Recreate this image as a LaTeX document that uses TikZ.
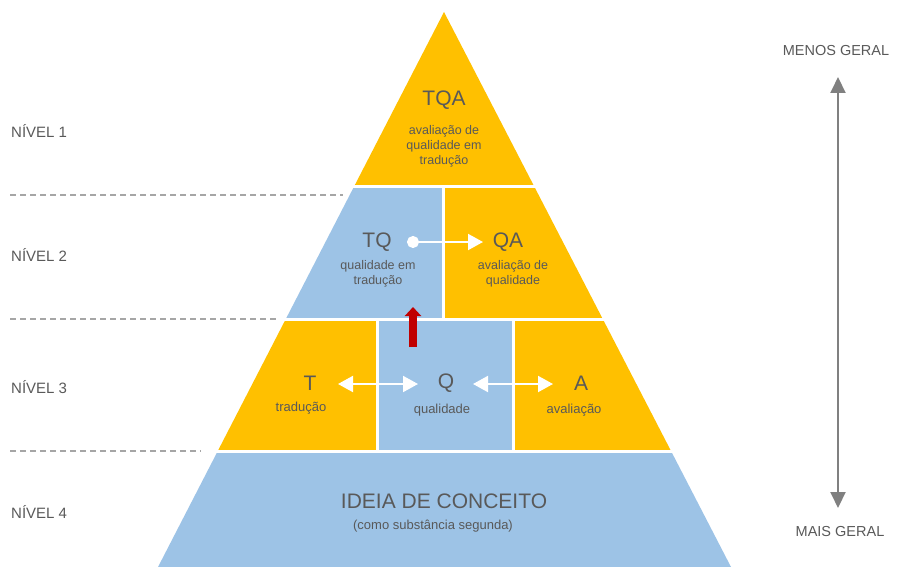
\documentclass[tikz,border=0pt]{standalone}
\usepackage{fontspec}
\setmainfont{Liberation Sans}
\usetikzlibrary{arrows.meta}
\definecolor{pyor}{HTML}{FFC000}
\definecolor{pybl}{HTML}{9DC3E6}
\definecolor{txtgray}{HTML}{595959}
\definecolor{redar}{HTML}{C00000}
\definecolor{grayar}{HTML}{808080}
\definecolor{dashgray}{HTML}{A6A6A6}
\begin{document}
\begin{tikzpicture}[x=1pt,y=-1pt,
 big/.style={font=\fontsize{21}{25}\selectfont, text=txtgray, inner sep=0pt},
 sub/.style={font=\fontsize{12.5}{15}\selectfont, text=txtgray, align=center, inner sep=0pt},
 subb/.style={font=\fontsize{13}{15}\selectfont, text=txtgray, align=center, inner sep=0pt},
 lvl/.style={font=\fontsize{15}{18}\selectfont, text=txtgray, anchor=west, inner sep=0pt},
 side/.style={font=\fontsize{14.5}{17}\selectfont, text=txtgray, inner sep=0pt},
 wline/.style={draw=white, line width=2pt},
 guide/.style={draw=dashgray, line width=1.2pt, dash pattern=on 6pt off 4pt},
]
\useasboundingbox (0,0) rectangle (901,567);
\begin{scope}
\clip (444,12) -- (731,567) -- (158,567) -- cycle;
\fill[pyor] (0,0) rectangle (901,185);
\fill[pybl] (0,188) rectangle (442,318);
\fill[pyor] (445,188) rectangle (901,318);
\fill[pyor] (0,321) rectangle (376,450);
\fill[pybl] (379,321) rectangle (512,450);
\fill[pyor] (515,321) rectangle (901,450);
\fill[pybl] (0,453) rectangle (901,567);
\end{scope}

% guides
\draw[guide] (10,195) -- (343,195);
\draw[guide] (10,319) -- (277,319);
\draw[guide] (10,451) -- (201,451);

% level labels
\node[lvl] (n1) at (11,131) {NÍVEL 1};
\node[lvl] (n2) at (11,255) {NÍVEL 2};
\node[lvl] (n3) at (11,387) {NÍVEL 3};
\node[lvl] (n4) at (11,512) {NÍVEL 4};

% level 1
\node[big] (tqa) at (444,100) {TQA};
\node[sub] (tqas) at (444,146) {avaliação de\\qualidade em\\tradução};

% level 2
\node[big] (tq) at (377,242) {TQ};
\node[sub] (tqsub) at (378,274) {qualidade em\\tradução};
\node[big] (qa) at (508,242) {QA};
\node[sub] (qasub) at (513,274) {avaliação de\\qualidade};

% level 3
\node[big] (t) at (310,383) {T};
\node[subb] (tsub) at (301,408) {tradução};
\node[big] (q) at (446,383) {Q};
\node[subb] (qsub) at (442,410) {qualidade};
\node[big] (a) at (581,383) {A};
\node[subb] (asub) at (574,410) {avaliação};

% level 4
\node[big] (idea) at (444,501) {IDEIA DE CONCEITO};
\node[subb] (ideasub) at (433,526) {(como substância segunda)};

% white arrows
\coordinate (tqs) at (407,242);
\coordinate (tqe) at (483,242);
\draw[wline, {Circle[length=12pt]}-{Triangle[length=15pt,width=16pt]}] (tqs) -- (tqe);
\coordinate (tqL) at (338,384);
\coordinate (tqR) at (418,384);
\draw[wline, {Triangle[length=15pt,width=16pt]}-{Triangle[length=15pt,width=16pt]}] (tqL) -- (tqR);
\coordinate (qaL) at (473,384);
\coordinate (qaR) at (553,384);
\draw[wline, {Triangle[length=15pt,width=16pt]}-{Triangle[length=15pt,width=16pt]}] (qaL) -- (qaR);

% red arrow
\coordinate (ra) at (413,347);
\coordinate (rb) at (413,307);
\draw[redar, line width=8pt, -{Triangle[length=9pt,width=16pt]}] (ra) -- (rb);

% side arrow
\node[side] (menos) at (836,51) {MENOS GERAL};
\node[side] (mais) at (840,532) {MAIS GERAL};
\coordinate (gt) at (838,77);
\coordinate (gb) at (838,508);
\draw[grayar, line width=2pt, {Triangle[length=16pt,width=15pt]}-{Triangle[length=16pt,width=15pt]}] (gb) -- (gt);
\end{tikzpicture}
\end{document}
